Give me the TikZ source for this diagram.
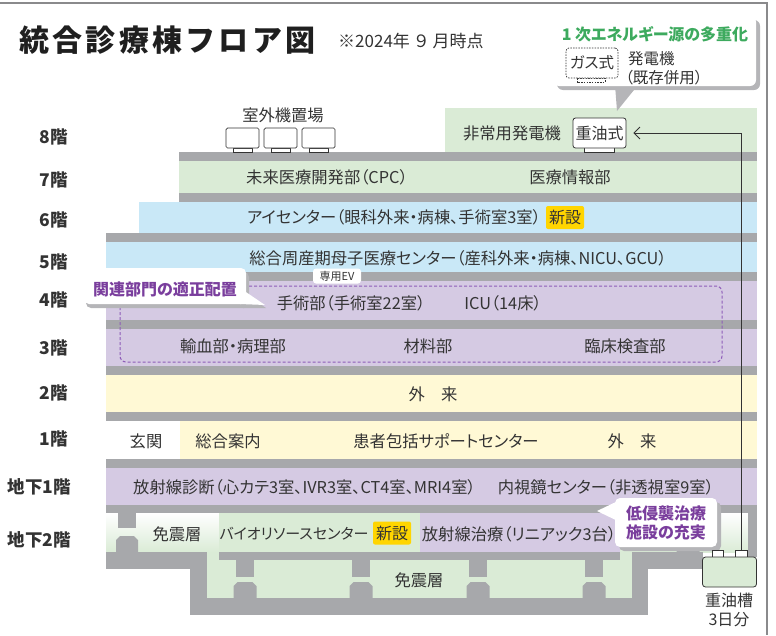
\documentclass[tikz,border=0pt]{standalone}
\usepackage{fontspec}
\setmainfont{Noto Sans CJK JP}[RawFeature=+palt]
\newfontfamily\titlefont{Noto Sans CJK JP}
\usetikzlibrary{arrows.meta,calc}
\definecolor{slabgray}{HTML}{A7A8AB}
\definecolor{fgreen}{HTML}{DAEBD6}
\definecolor{fblue}{HTML}{C9E8F7}
\definecolor{fpurple}{HTML}{D5CAE3}
\definecolor{fyellow}{HTML}{FFF9D5}
\definecolor{badge}{HTML}{FFD500}
\definecolor{txtc}{HTML}{333333}
\definecolor{ptext}{HTML}{7A3E9D}
\definecolor{gtext}{HTML}{3DAA5E}
\definecolor{shadowc}{HTML}{B5B5B8}
\definecolor{dashc}{HTML}{8E5CB8}
\definecolor{framegray}{HTML}{8A8A8C}
\begin{document}
\begin{tikzpicture}[x=1pt,y=-1pt,
  row/.style={text=txtc,font=\fontsize{16.3}{19}\selectfont,inner sep=0pt},
  flabel/.style={text=txtc,font=\fontsize{17.5}{20}\selectfont\bfseries,inner sep=0pt,anchor=east},
  badgebox/.style={fill=badge,rounded corners=2pt,inner sep=0pt,minimum width=38pt,minimum height=23pt,text=txtc,font=\fontsize{16}{19}\selectfont},
  unitbox/.style={draw=txtc,line width=0.7pt,fill=white,rounded corners=1.5pt,minimum width=33pt,minimum height=20pt,inner sep=0pt},
  foot/.style={draw=txtc,line width=0.6pt,fill=white},
  pipe/.style={draw=txtc,line width=0.8pt},
  ptitle/.style={text=ptext,font=\fontsize{16}{19}\selectfont\bfseries,inner sep=0pt},
]
\useasboundingbox (0,0) rectangle (776,635);
% frame
\draw[draw=framegray,line width=1.2pt] (0,3) -- (767,3) -- (767,635);
% title
\node[anchor=west,inner sep=0pt,text=black!88,font=\titlefont\fontsize{30}{33}\selectfont\bfseries\addfontfeature{LetterSpace=11}] (title) at (19,40) {統合診療棟フロア図};
\node[anchor=west,inner sep=0pt,text=txtc,font=\titlefont\fontsize{17}{19}\selectfont] (date) at (338,41) {※2024年\,９\,月時点};
% ---- floors
\fill[fgreen] (445,108) rectangle (757,152);
\fill[slabgray] (179,152) rectangle (757,161);
\fill[fgreen] (179,161) rectangle (757,193);
\fill[slabgray] (179,193) rectangle (757,202);
\fill[fblue] (139,202) rectangle (757,233);
\fill[slabgray] (106,233) rectangle (757,242);
\fill[fblue] (106,242) rectangle (757,272);
\fill[slabgray] (106,272) rectangle (757,281);
\fill[fpurple] (106,281) rectangle (757,320);
\fill[slabgray] (106,320) rectangle (757,329);
\fill[fpurple] (106,329) rectangle (757,366);
\fill[slabgray] (106,366) rectangle (757,375);
\fill[fyellow] (106,375) rectangle (757,412);
\fill[slabgray] (106,412) rectangle (757,421);
\fill[fyellow] (180,421) rectangle (757,459);
\fill[slabgray] (106,459) rectangle (757,468);
\fill[fpurple] (106,468) rectangle (757,505);
\fill[slabgray] (106,505) rectangle (757,513);
% B2 and pit
\shade[top color=white,bottom color=fgreen] (106,513) rectangle (748,552);
\fill[fgreen] (207,552) rectangle (632,598);
\fill[fgreen] (219,513) rectangle (420,552);
\fill[fpurple] (420,513) rectangle (620,552);
\fill[slabgray] (219,552) rectangle (620,560);
\fill[slabgray] (106,552) rectangle (207,569);
\fill[slabgray] (190,552) rectangle (207,615);
\fill[slabgray] (190,598) rectangle (648,615);
\fill[slabgray] (632,552) rectangle (648,615);
\fill[slabgray] (632,552) rectangle (703,569);
\fill[slabgray] (748,513) rectangle (757,557);
% columns
\fill[slabgray] (118,513) rectangle (136,528);
\fill[slabgray] (116,552) -- (116,540) -- (120,536) -- (134,536) -- (138,540) -- (138,552) -- cycle;
\fill[slabgray] (679,513) rectangle (697,528);
\fill[slabgray] (676.5,552) -- (676.5,540) -- (680.5,536) -- (695.5,536) -- (699.5,540) -- (699.5,552) -- cycle;
\foreach \c in {245,361,478,594}{
  \fill[slabgray] (\c-9,560) rectangle (\c+9,577);
  \fill[slabgray] (\c-11.5,598) -- (\c-11.5,586) -- (\c-7.5,582) -- (\c+7.5,582) -- (\c+11.5,586) -- (\c+11.5,598) -- cycle;
}
% dashed group
\draw[dashc,line width=1pt,dash pattern=on 3pt off 2pt,rounded corners=6pt] (120,286) rectangle (722,362);
% floor labels
\node[flabel] (l8) at (68,137) {8階};
\node[flabel] (l7) at (68,180) {7階};
\node[flabel] (l6) at (68,220) {6階};
\node[flabel] (l5) at (68,262) {5階};
\node[flabel] (l4) at (68,300) {4階};
\node[flabel] (l3) at (68,348) {3階};
\node[flabel] (l2) at (68,393) {2階};
\node[flabel] (l1) at (68,439) {1階};
\node[flabel] (lb1) at (71,487) {地下1階};
\node[flabel] (lb2) at (71,540) {地下2階};
% 8F
\node[row] (outdoor) at (283,115) {室外機置場};
\foreach \x/\n in {242.5/u1,280.5/u2,318.5/u3}{
  \filldraw[foot] (\x-9.5,148) rectangle (\x+9.5,152);
  \node[unitbox] (\n) at (\x,138) {};
}
\node[row] (emgen) at (512,133) {非常用発電機};
\filldraw[foot] (584,146) rectangle (614,152);
\node[draw=txtc,line width=0.8pt,fill=white,rounded corners=2.5pt,minimum width=53pt,minimum height=30pt,inner sep=0pt,text=txtc,font=\fontsize{16}{19}\selectfont] (oilbox) at (599.5,133) {重油式};
% 7F
\node[row] (cpc) at (327,177) {未来医療開発部（CPC）};
\node[row] (info) at (570,177) {医療情報部};
% 6F
\node[row] (eye) at (394,217) {アイセンター（眼科外来・病棟、手術室3室）};
\node[badgebox] (new6) at (565,217.5) {新設};
% 5F
\node[row] (peri) at (458,258) {総合周産期母子医療センター（産科外来・病棟、NICU、GCU）};
% 4F
\node[row] (ope) at (351,303) {手術部（手術室22室）};
\node[row] (icu) at (503,303) {ICU（14床）};
% 3F
\node[row] (blood) at (233,346) {輸血部・病理部};
\node[row] (mat) at (428,346) {材料部};
\node[row] (lab) at (625,346) {臨床検査部};
% 2F
\node[row] (out2) at (433,394) {外\hspace{1em}来};
% 1F
\node[row] (ent) at (146,441) {玄関};
\node[row] (recep) at (228,441) {総合案内};
\node[row] (support) at (446,441) {患者包括サポートセンター};
\node[row] (out1) at (632,441) {外\hspace{1em}来};
% B1
\node[row,anchor=west] (rad) at (133,487) {放射線診断（心カテ3室、IVR3室、CT4室、MRI4室）};
\node[row,anchor=east] (endo) at (714,487) {内視鏡センター（非透視室9室）};
% B2
\node[row] (iso1) at (177,534) {免震層};
\node[row,font=\fontsize{15}{18}\selectfont] (bio) at (294,534) {バイオリソースセンター};
\node[badgebox] (newb2) at (392,533) {新設};
\node[row] (radt) at (519,534) {放射線治療（リニアック3台）};
\node[row] (iso2) at (419,580) {免震層};
% EV tag
\node[fill=white,rounded corners=3pt,inner sep=1.5pt,text=txtc,font=\fontsize{11}{12}\selectfont,minimum width=48pt,minimum height=15pt] (ev) at (337,276) {専用EV};
% callout: related departments
\fill[shadowc,rounded corners=5pt] (86,272) rectangle (249,308);
\fill[shadowc] (243,292) -- (266,308) -- (243,308) -- cycle;
\fill[white,rounded corners=5pt] (84,268) rectangle (246,304);
\fill[white] (240,288) -- (265,305) -- (240,304) -- cycle;
\node[ptitle] (rel) at (165,289) {関連部門の適正配置};
% callout: minimally invasive
\fill[shadowc,rounded corners=5pt] (619,502) rectangle (721,551);
\fill[white,rounded corners=5pt] (615,498) rectangle (717,547);
\fill[white] (620,500) -- (597,511) -- (622,523) -- cycle;
\node[ptitle] (mini1) at (666,513) {低侵襲治療};
\node[ptitle] (mini2) at (666,532) {施設の充実};
% callout: energy
\fill[shadowc] (615,85) -- (638,85) -- (617,111) -- cycle;
\fill[shadowc,rounded corners=6pt] (557,20) rectangle (760,90);
\fill[white,rounded corners=6pt] (553,16) rectangle (756,86);
\node[inner sep=0pt,text=gtext,font=\fontsize{16}{19}\selectfont\bfseries] (energy) at (655,34) {1 次エネルギー源の多重化};
\draw[txtc,line width=0.7pt,dash pattern=on 1.5pt off 1.2pt] (577,78) rectangle (605,82);
\node[draw=txtc,line width=0.7pt,dash pattern=on 1.5pt off 1.2pt,rounded corners=3pt,fill=white,minimum width=52pt,minimum height=30pt,inner sep=0pt,text=txtc,font=\fontsize{15.5}{18}\selectfont] (gas) at (592,63) {ガス式};
\node[anchor=west,inner sep=0pt,text=txtc,font=\fontsize{15.5}{18}\selectfont] (gen1) at (628,59) {発電機};
\node[anchor=west,inner sep=0pt,text=txtc,font=\fontsize{15.5}{18}\selectfont] (gen2) at (625,78) {（既存併用）};
% oil tank
\node[foot,minimum width=11pt,minimum height=7pt,inner sep=0pt] (nozL) at (717.5,553.5) {};
\node[foot,minimum width=12pt,minimum height=7pt,inner sep=0pt] (nozR) at (741,553.5) {};
\node[draw=txtc,line width=0.8pt,fill=fgreen,rounded corners=3pt,minimum width=54pt,minimum height=30pt,inner sep=0pt] (tank) at (729.5,572) {};
\node[row,align=center,font=\fontsize{16}{18.5}\selectfont] (tanklbl) at (729,610) {重油槽\\3日分};
% pipe
\draw[pipe,-{Straight Barb[length=6pt,width=12pt]},shorten >=7pt] (nozR.north) |- (oilbox.east);
\end{tikzpicture}
\end{document}
